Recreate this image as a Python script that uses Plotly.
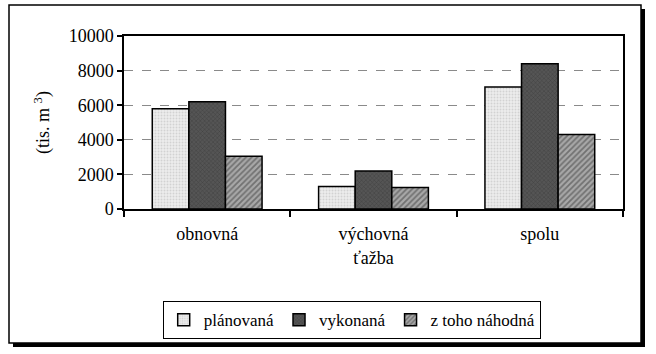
import plotly.graph_objects as go

categories = ["obnovná", "výchovná<br>ťažba", "spolu"]
planovana = [5800, 1300, 7050]
vykonana = [6200, 2200, 8400]
nahodna = [3050, 1250, 4300]
series_names = ["plánovaná", "vykonaná", "z toho náhodná"]
y_ticks = [0, 2000, 4000, 6000, 8000, 10000]
y_ticktext = ["0", "2000", "4000", "6000", "8000", "10000"]

W, H = 656, 354
L, R, T, B = 124, 623, 36, 209

def px(x):
    return (x - L) / (R - L)

def py(y):
    return (B - y) / (B - T)

FAM = "Liberation Serif, Times New Roman, Times, serif"
font = dict(family=FAM, size=18, color="black")

fig = go.Figure()
fig.add_trace(go.Bar(
    x=categories, y=planovana, name=series_names[0],
    marker=dict(color="#e4e4e4", line=dict(color="black", width=1.5),
                pattern=dict(shape=".", fgcolor="#b8b8b8", bgcolor="#ececec", size=3, solidity=0.3)),
))
fig.add_trace(go.Bar(
    x=categories, y=vykonana, name=series_names[1],
    marker=dict(color="#454545", line=dict(color="black", width=1.5),
                pattern=dict(shape="x", fgcolor="#2a2a2a", bgcolor="#555555", size=3, solidity=0.3)),
))
fig.add_trace(go.Bar(
    x=categories, y=nahodna, name=series_names[2],
    marker=dict(color="#808080", line=dict(color="black", width=1.5),
                pattern=dict(shape="/", fgcolor="#3a3a3a", bgcolor="#a8a8a8", size=4, solidity=0.45)),
))

shapes = [
    dict(type="rect", xref="paper", yref="paper",
         x0=px(9), x1=px(641), y0=py(5), y1=py(343),
         line=dict(color="black", width=1.5), fillcolor="rgba(0,0,0,0)", layer="below"),
    dict(type="rect", xref="paper", yref="paper",
         x0=px(13), x1=px(645), y0=py(343), y1=py(347),
         line=dict(width=0), fillcolor="black"),
    dict(type="rect", xref="paper", yref="paper",
         x0=px(641), x1=px(645), y0=py(9), y1=py(347),
         line=dict(width=0), fillcolor="black"),
]

fig.update_layout(
    width=W, height=H,
    margin=dict(l=L, r=W - R, t=T, b=H - B, pad=0),
    paper_bgcolor="white", plot_bgcolor="white",
    font=font,
    barmode="group", bargap=0.34, bargroupgap=0,
    showlegend=True,
    legend=dict(orientation="h", x=px(352), xanchor="center", y=py(301), yanchor="top",
                bordercolor="black", borderwidth=1.2, bgcolor="white",
                font=dict(family=FAM, size=17, color="black"), itemwidth=30,
                traceorder="normal", tracegroupgap=0),
    shapes=shapes,
)
fig.update_xaxes(
    showline=True, linecolor="black", linewidth=1.5, mirror=True,
    ticks="outside", tickson="boundaries", ticklen=6, tickcolor="black", tickwidth=1.5,
    showgrid=False, tickfont=font, ticklabelstandoff=8,
)
fig.update_yaxes(
    range=[0, 10000], tickvals=y_ticks, ticktext=y_ticktext,
    showline=True, linecolor="black", linewidth=1.5, mirror=True,
    ticks="outside", ticklen=5, tickcolor="black", tickwidth=1.5,
    showgrid=True, gridcolor="#8a8a8a", griddash="dash", gridwidth=1,
    zeroline=False, tickfont=font,
    title=dict(text="(tis. m <sup>3</sup>)", font=font, standoff=14),
)
fig.write_html("out.html")
